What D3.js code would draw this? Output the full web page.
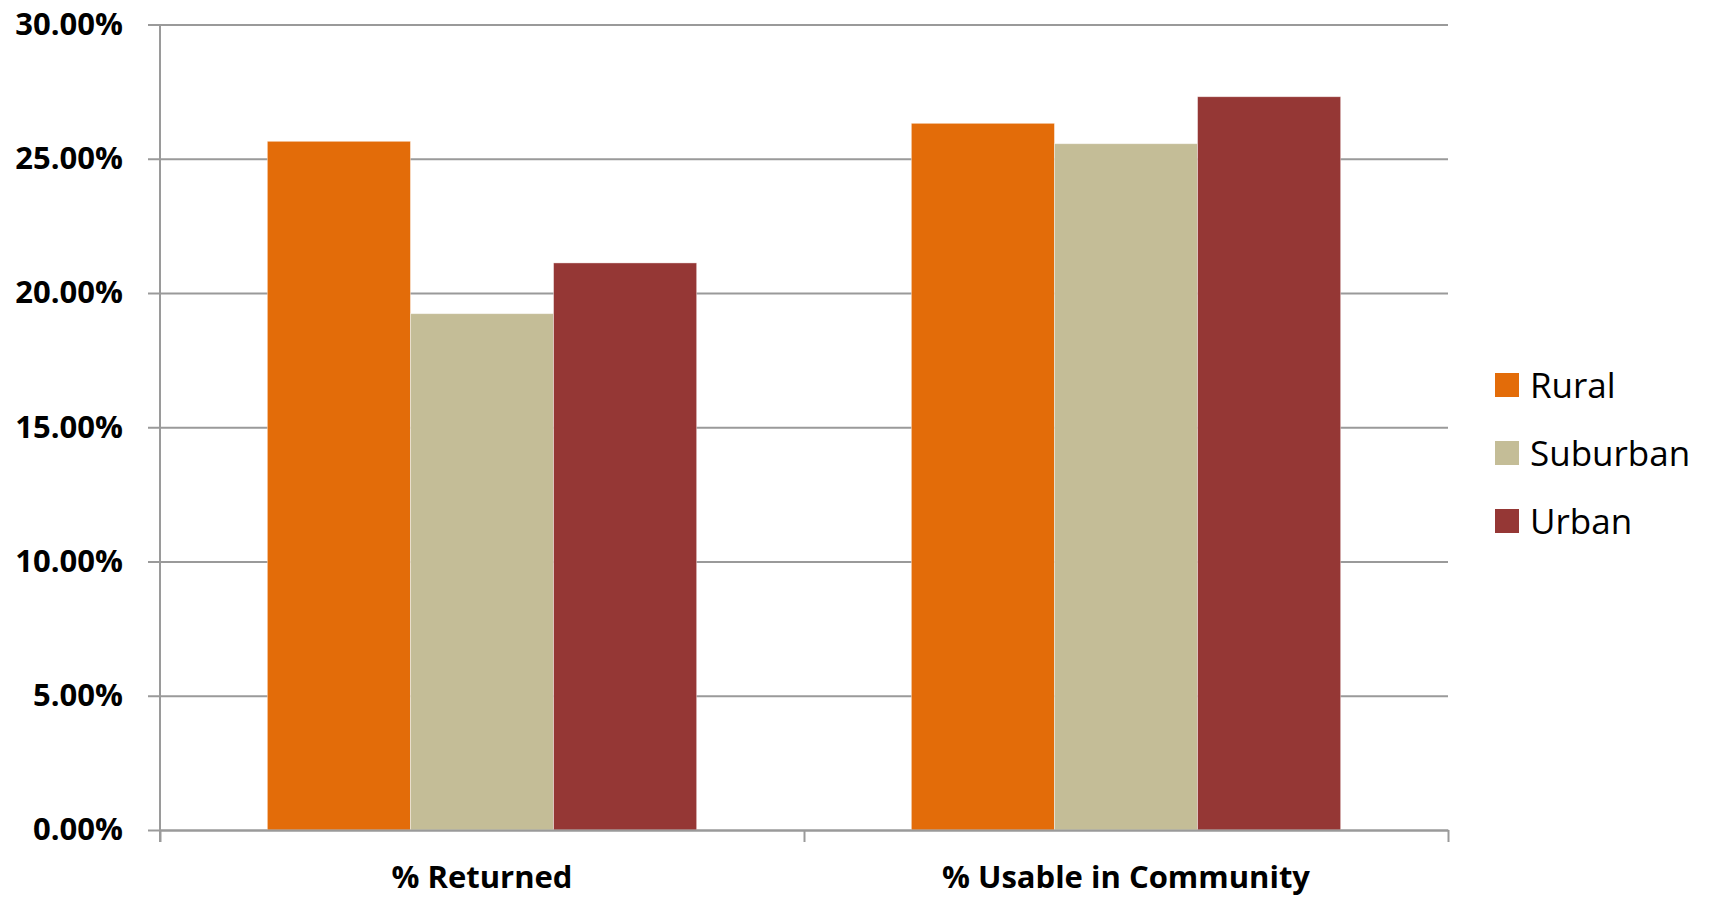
<!DOCTYPE html>
<html>
<head>
<meta charset="utf-8">
<script src="https://cdn.jsdelivr.net/npm/d3@7"></script>
<style>
  body { margin: 0; background: #fff; }
  svg text { font-family: "Open Sans", sans-serif; fill: #000; }
</style>
</head>
<body>
<svg></svg>
<script>
// Data
var categories = ["% Returned", "% Usable in Community"];
var series = ["Rural", "Suburban", "Urban"];
var rural = [0.2565, 0.2632];
var suburban = [0.1923, 0.2556];
var urban = [0.2112, 0.2731];
var colors = ["#E36C09", "#C4BD97", "#953735"];
var yTicks = [0, 0.05, 0.10, 0.15, 0.20, 0.25, 0.30];

var values = [rural, suburban, urban];

// SVG
var width = 1711;
var height = 898;
var plotLeft = 160, plotRight = 1448, plotTop = 24.5, plotBottom = 830;

var svg = d3.select("svg")
    .attr("width", width)
    .attr("height", height);

// Scales
var x0 = d3.scaleBand()
    .domain(categories)
    .range([plotLeft, plotRight]);

var x1 = d3.scaleBand()
    .domain(series)
    .range([0, x0.bandwidth()])
    .paddingInner(0)
    .paddingOuter(0.75);

var yScale = d3.scaleLinear()
    .domain([0, 0.30])
    .range([plotBottom, plotTop]);

// Gridlines
var grid = svg.append("g")
    .attr("transform", "translate(" + plotLeft + ",0)")
    .call(d3.axisLeft(yScale)
        .tickValues(yTicks)
        .tickSize(-(plotRight - plotLeft))
        .tickFormat(""));
grid.select(".domain").remove();
grid.selectAll("line").attr("stroke", "#9a9a9a").attr("stroke-width", 2);

// Bars
var rows = [];
categories.forEach(function(c, i) {
    series.forEach(function(s, j) {
        rows.push({ cat: c, ser: s, val: values[j][i], col: colors[j] });
    });
});

svg.append("g").selectAll("rect")
    .data(rows)
    .enter().append("rect")
    .attr("x", d => x0(d.cat) + x1(d.ser))
    .attr("y", d => yScale(d.val))
    .attr("width", x1.bandwidth())
    .attr("height", d => plotBottom - yScale(d.val))
    .attr("fill", d => d.col)
    .attr("stroke", "#ffffff")
    .attr("stroke-opacity", 0.5)
    .attr("stroke-width", 0.8);

// Y axis
var yAxis = svg.append("g")
    .attr("transform", "translate(" + plotLeft + ",0)")
    .call(d3.axisLeft(yScale)
        .tickValues(yTicks)
        .tickSize(12)
        .tickPadding(25)
        .tickFormat(d3.format(".2%")));
yAxis.select(".domain").attr("stroke", "#9a9a9a").attr("stroke-width", 2)
    .attr("d", "M0," + plotTop + "V" + (plotBottom + 12));
yAxis.selectAll("line").attr("stroke", "#9a9a9a").attr("stroke-width", 2);
yAxis.selectAll("text")
    .style("font-size", "31px")
    .style("font-weight", "bold");

// X axis (boundary ticks)
var xEdges = d3.scaleLinear().domain([0, categories.length]).range([plotLeft, plotRight]);
var xAxis = svg.append("g")
    .attr("transform", "translate(0," + plotBottom + ")")
    .call(d3.axisBottom(xEdges)
        .tickValues(d3.range(categories.length + 1))
        .tickSize(12)
        .tickSizeOuter(0)
        .tickFormat(""));
xAxis.select(".domain").attr("stroke", "#9a9a9a").attr("stroke-width", 2);
xAxis.selectAll("line").attr("stroke", "#9a9a9a").attr("stroke-width", 2);

// Category labels
var xLabels = svg.append("g")
    .attr("transform", "translate(0," + plotBottom + ")")
    .call(d3.axisBottom(x0).tickSize(0).tickPadding(36));
xLabels.select(".domain").remove();
xLabels.selectAll("text")
    .style("font-size", "31px")
    .style("font-weight", "bold");

// Legend
var legend = svg.append("g")
    .attr("transform", "translate(1495,373)");

var item = legend.selectAll("g")
    .data(series)
    .enter().append("g")
    .attr("transform", (d, i) => "translate(0," + (i * 68) + ")");

item.append("rect")
    .attr("width", 24)
    .attr("height", 24)
    .attr("fill", (d, i) => colors[i]);

item.append("text")
    .attr("x", 35)
    .attr("y", 12)
    .attr("dy", "0.36em")
    .style("font-size", "35px")
    .text(d => d);
</script>
</body>
</html>
